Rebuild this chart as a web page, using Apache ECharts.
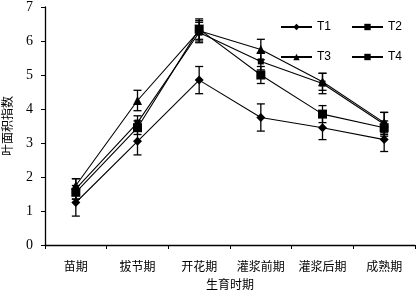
<!DOCTYPE html>
<html><head><meta charset="utf-8">
<script src="https://cdn.jsdelivr.net/npm/echarts@6/dist/echarts.min.js"></script>
<style>html,body{margin:0;padding:0;background:#fff}#c{width:418px;height:292px}</style>
</head><body><div id="c"></div>
<script>
const categories = ['苗期','拔节期','开花期','灌浆前期','灌浆后期','成熟期'];
const T1 = [1.25, 3.05, 4.85, 3.75, 3.45, 3.1];
const T2 = [1.55, 3.45, 6.35, 5.0, 3.85, 3.45];
const T3 = [1.75, 4.25, 6.3, 5.75, 4.8, 3.6];
const T4 = [1.65, 3.6, 6.25, 5.4, 4.75, 3.55];
const T1E = [0.4, 0.4, 0.4, 0.4, 0.35, 0.35];
const T2E = [0.2, 0.2, 0.3, 0.25, 0.25, 0.2];
const T3E = [0.2, 0.3, 0.3, 0.3, 0.25, 0.3];
const T4E = [0.3, 0.2, 0.3, 0.25, 0.3, 0.35];
const yTicks = [0,1,2,3,4,5,6,7];

const names = ['T1','T2','T3','T4'];
const vals = [T1,T2,T3,T4];
const errs = [T1E,T2E,T3E,T4E];
const symbols = ['diamond','rect','triangle','rect'];
const sizes = [9,9,9,6];

const serif = '"Liberation Serif","DejaVu Serif",serif';
const cjk = '"Noto Sans CJK SC",sans-serif';

function errSeries(i){
  return {
    type:'custom', name: names[i], silent:true, z:1,
    data: vals[i].map((v,k)=>[k, v-errs[i][k], v+errs[i][k]]),
    renderItem: function(params, api){
      const x = api.value(0);
      const lo = api.coord([x, api.value(1)]);
      const hi = api.coord([x, api.value(2)]);
      const w = 4;
      const st = {stroke:'#000', lineWidth:1.3};
      return {type:'group', children:[
        {type:'line', shape:{x1:lo[0],y1:lo[1],x2:hi[0],y2:hi[1]}, style:st},
        {type:'line', shape:{x1:lo[0]-w,y1:lo[1],x2:lo[0]+w,y2:lo[1]}, style:st},
        {type:'line', shape:{x1:hi[0]-w,y1:hi[1],x2:hi[0]+w,y2:hi[1]}, style:st}
      ]};
    }
  };
}

const series = [];
for(let i=0;i<4;i++){
  series.push({
    type:'line', name:names[i], data:vals[i], symbol:symbols[i], symbolSize:sizes[i],
    lineStyle:{color:'#000', width:1.1}, itemStyle:{color:'#000'}, z:3
  });
}
for(let i=0;i<4;i++) series.push(errSeries(i));

const legendCommon = {
  itemWidth:31, itemHeight:8, itemGap:20, textStyle:{fontFamily:'"Liberation Sans",sans-serif', fontSize:12, color:'#000'}
};
const chart = echarts.init(document.getElementById('c'), null, {renderer:'canvas'});
chart.setOption({
  animation:false,
  grid:{left:45, right:3, top:7, bottom:47, containLabel:false, outerBoundsMode:'none'},
  legend:[
    Object.assign({left:275, top:16, data:['T1','T2']}, legendCommon),
    Object.assign({left:275, top:46, data:['T3','T4']}, legendCommon)
  ],
  xAxis:{
    type:'category', data:categories, boundaryGap:true,
    name:'生育时期', nameLocation:'middle', nameGap:33,
    nameTextStyle:{fontFamily:cjk, fontSize:12, color:'#000'},
    axisLine:{lineStyle:{color:'#000', width:1.3}},
    axisTick:{show:true, inside:false, length:4, lineStyle:{color:'#000'}},
    axisLabel:{fontFamily:cjk, fontSize:12, color:'#000', margin:15, interval:0}
  },
  yAxis:{
    type:'value', min:0, max:7, interval:1,
    name:'叶面积指数', nameLocation:'middle', nameGap:32,
    nameTextStyle:{fontFamily:cjk, fontSize:12, color:'#000'},
    axisLine:{show:true, lineStyle:{color:'#000', width:1.3}},
    axisTick:{show:true, length:4, lineStyle:{color:'#000'}},
    splitLine:{show:false},
    axisLabel:{fontFamily:serif, fontSize:14, color:'#000', margin:12,
      formatter:v=> yTicks.includes(v) ? String(v) : ''}
  },
  series:series
});
</script></body></html>
